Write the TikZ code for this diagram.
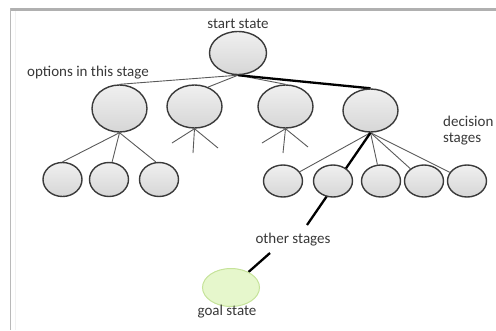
\documentclass[tikz,border=0pt]{standalone}
\usepackage{fontspec}
\setmainfont{Carlito}
\usetikzlibrary{shapes.geometric,backgrounds}
\definecolor{txt}{HTML}{383838}
\definecolor{rim}{HTML}{3A3A3A}
\definecolor{link}{HTML}{5A5A5A}
\definecolor{goalfill}{HTML}{E6F7CC}
\definecolor{goalrim}{HTML}{C6E39A}
\tikzset{
  state/.style={ellipse, draw=rim, line width=1.4pt, inner sep=0pt,
    top color=gray!12, bottom color=gray!32},
  big/.style={state, minimum width=55pt, minimum height=44pt},
  small/.style={state, minimum width=39pt, minimum height=34pt},
  goalnode/.style={ellipse, draw=goalrim, line width=1pt, fill=goalfill,
    inner sep=0pt, minimum width=57pt, minimum height=38pt},
  lbl/.style={text=txt, font=\fontsize{15}{16}\selectfont, inner sep=0pt},
  link/.style={draw=link, line width=0.9pt},
  path/.style={draw=black, line width=2.3pt}
}
\begin{document}
\begin{tikzpicture}[x=1pt,y=-1pt]
\useasboundingbox (0,0) rectangle (496,330);
% page frame
\fill[gray!62] (10,8) rectangle (496,11);
\draw[gray!55, line width=1pt] (10.5,8) -- (10.5,330);
\draw[gray!10, line width=0.8pt] (15.5,11) -- (15.5,330);

% root and first level
\node[state, minimum width=57pt, minimum height=43pt] (s) at (238,53) {};
\node[big, minimum height=47pt] (a) at (119.5,108.5) {};
\node[big, minimum height=43pt] (b) at (194.5,106.5) {};
\node[big, minimum height=43pt] (c) at (285.5,106.5) {};
\node[big, minimum height=43pt] (d) at (370.5,110.5) {};

% second level
\node[small] (a1) at (62.5,179.5) {};
\node[small] (a2) at (109,179.5) {};
\node[small] (a3) at (159,179.5) {};
\node[small, minimum height=32pt] (d1) at (283,181) {};
\node[small, minimum height=32pt] (d2) at (333,181) {};
\node[small, minimum height=32pt] (d3) at (381,181) {};
\node[small, minimum height=32pt] (d4) at (424,181) {};
\node[small, minimum height=32pt] (d5) at (467,181) {};

% goal
\node[goalnode] (g) at (231,287.5) {};

% labels
\node[lbl] (tstart) at (238,24) {start state};
\node[lbl, anchor=west] (topts) at (27,73) {options in this stage};
\node[lbl, anchor=north west, align=left] (tdec) at (443,116) {decision\\stages};
\node[lbl] (tother) at (293,239.5) {other stages};
\node[lbl] (tgoal) at (227,312) {goal state};

% loose ends of the unexpanded branches and of the goal path
\coordinate (b1) at (172,143);
\coordinate (b2) at (193,153);
\coordinate (b3) at (218,148);
\coordinate (c1) at (262,143);
\coordinate (c2) at (283,153);
\coordinate (c3) at (308,147);
\coordinate (o1) at (307,225);
\coordinate (o2) at (270,253);

\begin{scope}[on background layer]
  \draw[link] (s.south) -- (a.north);
  \draw[link] (s.south) -- (b.55);
  \draw[link] (s.south) -- (c.north);
  \draw[link] (a.south) -- (a1.north);
  \draw[link] (a.south) -- (a2.80);
  \draw[link] (a.south) -- (a3.100);
  \draw[link] (b.south) -- (b1);
  \draw[link] (b.south) -- (b2);
  \draw[link] (b.south) -- (b3);
  \draw[link] (c.south) -- (c1);
  \draw[link] (c.south) -- (c2);
  \draw[link] (c.south) -- (c3);
  \draw[link] (d.south) -- (d1);
  \draw[link] (d.south) -- (d3);
  \draw[link] (d.south) -- (d4);
  \draw[link] (d.south) -- (d5);
  \draw[path] (s.south) -- (d.north);
  \draw[path] (d.south) -- (o1);
  \draw[path] (o2) -- (g);
\end{scope}
\end{tikzpicture}
\end{document}
